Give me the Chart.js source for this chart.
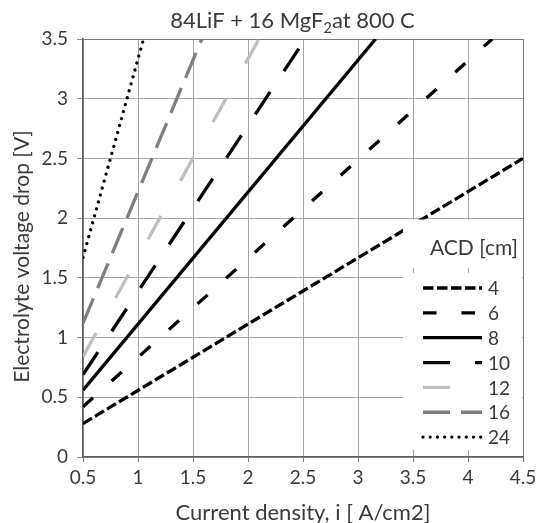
<!DOCTYPE html>
<html>
<head>
<meta charset="utf-8">
<script src="https://cdn.jsdelivr.net/npm/chart.js@4/dist/chart.umd.min.js"></script>
<style>
  html, body { margin: 0; padding: 0; background: #ffffff; }
  #wrap { width: 541px; height: 523px; position: relative; }
</style>
</head>
<body>
<div id="wrap"><canvas id="c" width="541" height="523"></canvas></div>
<script>
// ---------- data ----------
const chartTitleParts = ['84LiF + 16 MgF', '2', 'at 800 C'];
const xAxisTitle = 'Current density, i [ A/cm2]';
const yAxisTitle = 'Electrolyte voltage drop [V]';
const legendTitle = 'ACD [cm]';
const acdLabels = ['4', '6', '8', '10', '12', '16', '24'];

const xTickValues = [0.5, 1, 1.5, 2, 2.5, 3, 3.5, 4, 4.5];
const yTickValues = [0, 0.5, 1, 1.5, 2, 2.5, 3, 3.5];

// current density [A/cm2] and voltage drop [V] at the two visible ends of each line
const current4  = [0.5, 4.5];   const voltage4  = [0.28, 2.50];
const current6  = [0.5, 4.22];  const voltage6  = [0.42, 3.5];
const current8  = [0.5, 3.16];  const voltage8  = [0.56, 3.5];
const current10 = [0.5, 2.52];  const voltage10 = [0.69, 3.5];
const current12 = [0.5, 2.10];  const voltage12 = [0.84, 3.5];
const current16 = [0.5, 1.58];  const voltage16 = [1.12, 3.5];
const current24 = [0.5, 1.05];  const voltage24 = [1.67, 3.5];

const seriesCurrent = [current4, current6, current8, current10, current12, current16, current24];
const seriesVoltage = [voltage4, voltage6, voltage8, voltage10, voltage12, voltage16, voltage24];

// ---------- styles ----------
const FONT = 'Lato';
const TEXT = '#3a3a3a';
const lineColors = ['#000000', '#000000', '#000000', '#000000', '#bfbfbf', '#7f7f7f', '#000000'];
const lineDashes = [[10.5, 3.5], [13.5, 25], [], [27, 25], [27, 40], [27, 11], [0.01, 7.2]];
const lineCaps   = ['butt', 'butt', 'butt', 'butt', 'butt', 'butt', 'round'];
const lineWidth  = 3.3;

const datasets = acdLabels.map((lab, k) => ({
  label: lab,
  data: seriesCurrent[k].map((x, j) => ({ x: x, y: seriesVoltage[k][j] })),
  borderColor: lineColors[k],
  backgroundColor: lineColors[k],
  borderWidth: lineWidth,
  borderDash: lineDashes[k],
  borderCapStyle: lineCaps[k],
  pointRadius: 0,
  fill: false,
  tension: 0,
  clip: 0
}));

// ---------- overlay: title with subscript, y-axis title, legend ----------
const overlay = {
  id: 'overlay',
  afterDraw(chart) {
    const ctx = chart.ctx;
    ctx.save();
    // chart title
    ctx.fillStyle = TEXT;
    ctx.textBaseline = 'alphabetic';
    ctx.textAlign = 'left';
    const big = '22px ' + FONT, small = '14.5px ' + FONT;
    ctx.font = big;
    const w1 = ctx.measureText(chartTitleParts[0]).width;
    const w3 = ctx.measureText(chartTitleParts[2]).width;
    ctx.font = small;
    const w2 = ctx.measureText(chartTitleParts[1]).width;
    let tx = 292.5 - (w1 + w2 + w3) / 2;
    const base = 28;
    ctx.font = big;
    ctx.fillText(chartTitleParts[0], tx, base); tx += w1;
    ctx.font = small;
    ctx.fillText(chartTitleParts[1], tx, base + 4.5); tx += w2;
    ctx.font = big;
    ctx.fillText(chartTitleParts[2], tx, base);

    // y-axis title
    ctx.save();
    ctx.translate(22.5, 256.5);
    ctx.rotate(-Math.PI / 2);
    ctx.font = '21px ' + FONT;
    ctx.textAlign = 'center';
    ctx.textBaseline = 'middle';
    ctx.fillText(yAxisTitle, 0, 0);
    ctx.restore();

    // legend boxes
    const ca = chart.chartArea;
    ctx.fillStyle = '#ffffff';
    ctx.fillRect(403, 219.5, ca.right - 403 - 1, 48.5);
    ctx.fillRect(403, 273, ca.right - 403 - 1, 177);
    ctx.fillStyle = TEXT;
    ctx.font = '21px ' + FONT;
    ctx.textAlign = 'center';
    ctx.textBaseline = 'middle';
    ctx.fillText(legendTitle, 474, 248);

    ctx.font = '19px ' + FONT;
    ctx.textAlign = 'left';
    chart.data.datasets.forEach((ds, k) => {
      const y = 288 + k * 24.85;
      ctx.save();
      ctx.strokeStyle = ds.borderColor;
      ctx.lineWidth = ds.borderWidth;
      ctx.setLineDash(ds.borderDash || []);
      ctx.lineCap = ds.borderCapStyle;
      ctx.beginPath();
      ctx.moveTo(423, y);
      ctx.lineTo(482, y);
      ctx.stroke();
      ctx.restore();
      ctx.fillStyle = TEXT;
      ctx.fillText(ds.label, 488, y + 1);
    });
    ctx.restore();
  }
};

const gridColor = '#a6a6a6';
const frameColor = '#7a7a7a';

new Chart(document.getElementById('c'), {
  type: 'line',
  data: { datasets: datasets },
  options: {
    responsive: false,
    animation: false,
    devicePixelRatio: 1,
    layout: { padding: { top: 39, right: 18, bottom: 0, left: 0 } },
    plugins: {
      legend: { display: false },
      title: { display: false },
      tooltip: { enabled: false }
    },
    scales: {
      x: {
        type: 'linear',
        min: 0.5, max: 4.5,
        afterBuildTicks: s => { s.ticks = xTickValues.map(v => ({ value: v })); },
        afterFit: s => { s.height = 66; },
        grid: {
          color: c => (c.tick && c.tick.value === 4.5) ? frameColor : gridColor,
          lineWidth: 1,
          tickLength: 5,
          tickColor: '#808080'
        },
        border: { color: '#5a5a5a', width: 1.5 },
        ticks: {
          font: { family: FONT, size: 19 },
          color: TEXT,
          padding: 4,
          maxRotation: 0,
          autoSkip: false,
          callback: v => String(v)
        },
        title: {
          display: true,
          text: xAxisTitle,
          font: { family: FONT, size: 22 },
          color: TEXT,
          padding: { top: 0, bottom: -3 }
        }
      },
      y: {
        type: 'linear',
        min: 0, max: 3.5,
        afterBuildTicks: s => { s.ticks = yTickValues.map(v => ({ value: v })); },
        afterFit: s => { s.width = 83; },
        grid: {
          color: c => (c.tick && c.tick.value === 3.5) ? frameColor : gridColor,
          lineWidth: 1,
          tickLength: 6,
          tickColor: '#909090'
        },
        border: { color: '#5a5a5a', width: 1.5 },
        ticks: {
          font: { family: FONT, size: 19 },
          color: TEXT,
          padding: 9,
          autoSkip: false,
          callback: v => String(v)
        },
        title: { display: false, text: yAxisTitle }
      }
    }
  },
  plugins: [overlay]
});
</script>
</body>
</html>
